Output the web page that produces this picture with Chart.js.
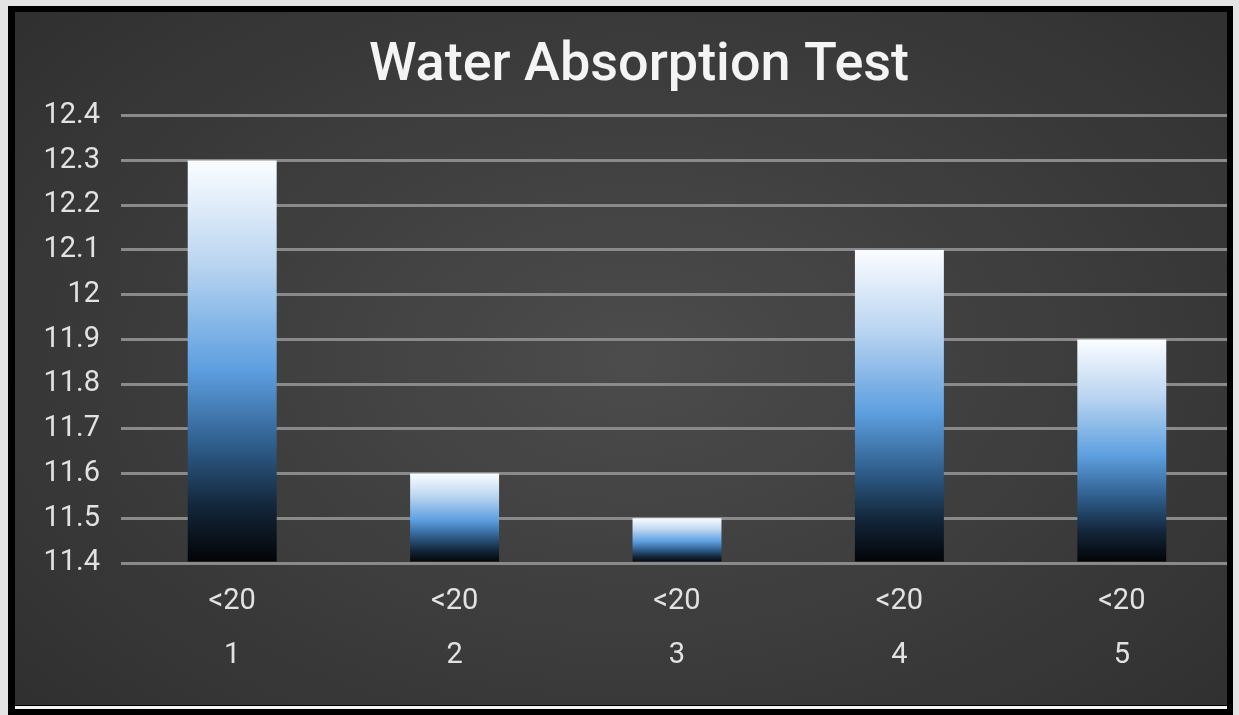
<!DOCTYPE html>
<html>
<head>
<meta charset="utf-8">
<script src="https://cdn.jsdelivr.net/npm/chart.js@4/dist/chart.umd.min.js"></script>
<style>
  body { margin: 0; background: #e4e4e4; width: 1239px; height: 715px; overflow: hidden; position: relative; }
  #frame { position: absolute; left: 8px; top: 6px; width: 1225px; height: 709px; background: #000; }
  #inner {
    position: absolute; left: 15px; top: 12px; width: 1212px; height: 693px; overflow: hidden;
    background: radial-gradient(ellipse 70% 78% at 51% 50%, #4c4c4c 0%, #404040 40%, #2e2f2e 100%);
  }
  #box { position: absolute; left: 0; top: 0; width: 1230px; height: 693px; }
  #line { position: absolute; left: 15px; top: 706px; width: 1212px; height: 3px; background: #f4f4f4; }
</style>
</head>
<body>
<div id="frame"></div>
<div id="inner"><div id="box"><canvas id="chart"></canvas></div></div>
<div id="line"></div>
<script>
// データ
const categories = ['1', '2', '3', '4', '5'];
const groupLabels = ['<20', '<20', '<20', '<20', '<20'];
const values = [12.3, 11.6, 11.5, 12.1, 11.9];
const yTickLabels = ['11.4', '11.5', '11.6', '11.7', '11.8', '11.9', '12', '12.1', '12.2', '12.3', '12.4'];
const yMin = 11.4;
const yMax = 12.4;

// 棒ごとのグラデーション（上が白、中央が青、下が黒）
function barGradient(context) {
    const chart = context.chart;
    if (!chart.chartArea) return '#5b9bd5';
    const yScale = chart.scales.y;
    const top = yScale.getPixelForValue(values[context.dataIndex]);
    const bottom = yScale.getPixelForValue(yMin);
    const g = chart.ctx.createLinearGradient(0, top, 0, bottom);
    g.addColorStop(0, '#fbfdff');
    g.addColorStop(0.25, '#bcd6f1');
    g.addColorStop(0.52, '#5d9fe0');
    g.addColorStop(0.7, '#30608f');
    g.addColorStop(0.86, '#13263a');
    g.addColorStop(1, '#020305');
    return g;
}

const ctx = document.getElementById('chart').getContext('2d');
new Chart(ctx, {
    type: 'bar',
    data: {
        labels: categories.map((c, i) => [groupLabels[i], c]),
        datasets: [{
            data: values,
            backgroundColor: barGradient,
            borderWidth: 0,
            barPercentage: 0.4,
            categoryPercentage: 1.0,
            base: yMin
        }]
    },
    options: {
        responsive: true,
        maintainAspectRatio: false,
        animation: false,
        layout: { padding: { left: 30, right: 12, top: 0, bottom: 0 } },
        plugins: {
            legend: { display: false },
            tooltip: { enabled: false },
            title: {
                display: true,
                text: 'Water Absorption Test',
                color: '#f4f4f4',
                font: { family: 'Roboto', size: 54, weight: '500' },
                padding: { top: 22, bottom: 17 }
            }
        },
        scales: {
            x: {
                afterFit: (axis) => { axis.height = 142; },
                grid: { display: false },
                border: { display: false },
                ticks: {
                    color: '#e2e2e2',
                    font: { family: 'Roboto', size: 29, lineHeight: 1.85 },
                    padding: 4,
                    maxRotation: 0
                }
            },
            y: {
                min: yMin,
                max: yMax,
                afterFit: (axis) => { axis.width = 76; },
                grid: { color: '#8a8a8a', lineWidth: 3, drawTicks: false },
                border: { display: false },
                ticks: {
                    stepSize: 0.1,
                    color: '#e2e2e2',
                    font: { family: 'Roboto', size: 29 },
                    padding: 21,
                    callback: (value, index) => yTickLabels[index]
                }
            }
        }
    }
});
</script>
</body>
</html>
